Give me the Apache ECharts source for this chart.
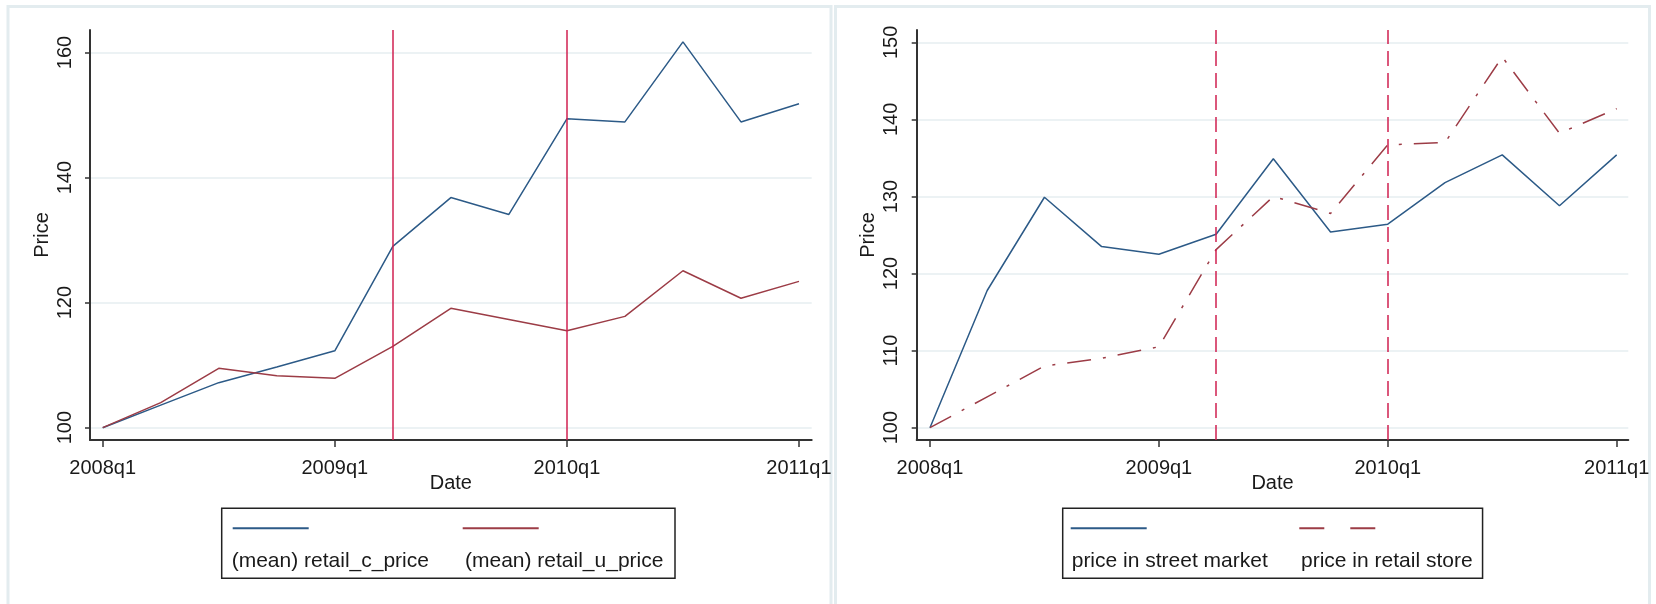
<!DOCTYPE html>
<html>
<head>
<meta charset="utf-8">
<script src="https://cdn.jsdelivr.net/npm/echarts@6/dist/echarts.min.js"></script>
<style>
html, body { margin: 0; padding: 0; background: #ffffff; }
#chart { width: 1656px; height: 604px; }
</style>
</head>
<body>
<div id="chart"></div>
<script>
// Quarterly price indices (2008q1 = 100)
const quarterLabels = ['2008q1', '2008q2', '2008q3', '2008q4', '2009q1', '2009q2', '2009q3',
  '2009q4', '2010q1', '2010q2', '2010q3', '2010q4', '2011q1'];
const retailCPrice = [100, 103.6, 107.2, 109.7, 112.3, 129.0, 136.8, 134.1, 149.4, 148.9, 161.7, 148.9, 151.8];
const retailUPrice = [100, 104.0, 109.5, 108.3, 107.9, 113.0, 119.1, 117.3, 115.5, 117.8, 125.1, 120.7, 123.4];
const streetMarketPrice = [100, 117.8, 129.9, 123.5, 122.5, 125.1, 134.9, 125.4, 126.4, 131.8, 135.4, 128.8, 135.4];
const retailStorePrice = [100, 104.0, 108.0, 109.0, 110.5, 123.1, 130.0, 127.8, 136.7, 137.0, 148.1, 138.2, 141.4];

// Reference quarters marked with vertical lines (2009q2, 2010q1)
const eventQuarters = [5, 8];

// Tick positions
const xTickQuarters = [0, 4, 8, 12];
const leftYTicks = [100, 120, 140, 160];
const rightYTicks = [100, 110, 120, 130, 140, 150];

// Series names
const leftNames = ['(mean) retail_c_price', '(mean) retail_u_price'];
const rightNames = ['price in street market', 'price in retail store'];

const FONT = '"Liberation Sans", Arial, sans-serif';
const NAVY = '#2c5a87';
const MAROON = '#9c3c46';
const VLINE = '#d02050';
const AXIS = '#333333';
const GRID = '#e6eef0';
const TEXT = '#1a1a1a';

// Legend key shapes: a solid bar and a long-dash bar
const SOLID_KEY = 'path://M0,0H76V2H0Z';
const DASH_KEY = 'path://M0,0H25V2H0Z M51,0H76V2H51Z';

const toPoints = vals => vals.map((v, i) => [i, v]);

function xAxisFor(gridIndex, min, max) {
  return {
    type: 'value', gridIndex, min, max,
    name: 'Date', nameLocation: 'middle', nameGap: 33, nameMoveOverlap: false,
    nameTextStyle: { fontFamily: FONT, fontSize: 20, color: TEXT },
    axisLine: { show: true, onZero: false, lineStyle: { color: AXIS, width: 2 } },
    axisTick: { show: true, customValues: xTickQuarters, length: 7, lineStyle: { color: AXIS, width: 1.5 } },
    axisLabel: {
      customValues: xTickQuarters, margin: 18, fontFamily: FONT, fontSize: 20, color: TEXT,
      formatter: v => quarterLabels[Math.round(v)]
    },
    splitLine: { show: false }
  };
}

function yAxisFor(gridIndex, min, max, ticks) {
  return {
    type: 'value', gridIndex, min, max,
    name: 'Price', nameLocation: 'middle', nameGap: 38, nameRotate: 90,
    nameTextStyle: { fontFamily: FONT, fontSize: 20, color: TEXT },
    axisLine: { show: true, onZero: false, lineStyle: { color: AXIS, width: 2 } },
    axisTick: { show: true, customValues: ticks, length: 5, lineStyle: { color: AXIS, width: 1.5 } },
    axisLabel: { customValues: ticks, rotate: 90, margin: 15, fontFamily: FONT, fontSize: 20, color: TEXT },
    splitLine: { show: true, lineStyle: { color: GRID, width: 1.5 } }
  };
}

function vLines(style) {
  return {
    silent: true, symbol: ['none', 'none'], animation: false,
    label: { show: false },
    lineStyle: style,
    data: eventQuarters.map(q => ({ xAxis: q }))
  };
}

const option = {
  animation: false,
  backgroundColor: '#ffffff',
  graphic: [
    { type: 'rect', z: -100, shape: { x: 8, y: 6.5, width: 823, height: 640 },
      style: { fill: '#ffffff', stroke: '#e3ecef', lineWidth: 3 } },
    { type: 'rect', z: -100, shape: { x: 835.5, y: 6.5, width: 814, height: 640 },
      style: { fill: '#ffffff', stroke: '#e3ecef', lineWidth: 3 } }
  ],
  grid: [
    { left: 90, right: 1656 - 811.7, top: 30, bottom: 604 - 440, outerBoundsMode: 'none' },
    { left: 916.7, right: 1656 - 1628.3, top: 30, bottom: 604 - 440, outerBoundsMode: 'none' }
  ],
  xAxis: [
    xAxisFor(0, -0.219, 12.219),
    xAxisFor(1, -0.232, 12.203)
  ],
  yAxis: [
    yAxisFor(0, 98.03, 163.6, leftYTicks),
    yAxisFor(1, 98.4, 151.6, rightYTicks)
  ],
  legend: [
    // line keys, left panel
    {
      left: 231.7, top: 527.3, padding: 0, itemWidth: 78, itemHeight: 2, itemGap: 153,
      icon: SOLID_KEY, formatter: () => '', textStyle: { fontSize: 1 },
      data: leftNames.map(n => ({ name: n }))
    },
    // labels and frame, left panel
    {
      left: 221.7, top: 508.3, padding: [42, 10, 6, 5], itemWidth: 0, itemHeight: 0, itemGap: 0,
      icon: 'none', borderColor: '#222222', borderWidth: 1.5,
      textStyle: { fontFamily: FONT, fontSize: 21, color: TEXT, width: 228.3, lineHeight: 22 },
      data: [{ name: leftNames[0] }, { name: leftNames[1], textStyle: { width: 200 } }]
    },
    // line keys, right panel
    {
      left: 1070.7, top: 527.3, padding: 0, itemWidth: 76, itemHeight: 2, itemGap: 152.6,
      formatter: () => '', textStyle: { fontSize: 1 },
      data: [{ name: rightNames[0], icon: SOLID_KEY }, { name: rightNames[1], icon: DASH_KEY }]
    },
    // labels and frame, right panel
    {
      left: 1062.7, top: 508.3, padding: [42, 10, 6, 4], itemWidth: 0, itemHeight: 0, itemGap: 0,
      icon: 'none', borderColor: '#222222', borderWidth: 1.5,
      textStyle: { fontFamily: FONT, fontSize: 21, color: TEXT, width: 224.3, lineHeight: 22 },
      data: [{ name: rightNames[0] }, { name: rightNames[1], textStyle: { width: 171.3 } }]
    }
  ],
  series: [
    {
      name: leftNames[0], type: 'line', xAxisIndex: 0, yAxisIndex: 0,
      data: toPoints(retailCPrice), symbol: 'none',
      itemStyle: { color: NAVY }, lineStyle: { color: NAVY, width: 1.5 },
      markLine: vLines({ color: VLINE, width: 1.5, type: 'solid' })
    },
    {
      name: leftNames[1], type: 'line', xAxisIndex: 0, yAxisIndex: 0,
      data: toPoints(retailUPrice), symbol: 'none',
      itemStyle: { color: MAROON }, lineStyle: { color: MAROON, width: 1.5 }
    },
    {
      name: rightNames[0], type: 'line', xAxisIndex: 1, yAxisIndex: 1,
      data: toPoints(streetMarketPrice), symbol: 'none',
      itemStyle: { color: NAVY }, lineStyle: { color: NAVY, width: 1.5 },
      markLine: vLines({ color: VLINE, width: 1.5, type: [15, 7] })
    },
    {
      name: rightNames[1], type: 'line', xAxisIndex: 1, yAxisIndex: 1,
      data: toPoints(retailStorePrice), symbol: 'none',
      itemStyle: { color: MAROON }, lineStyle: { color: MAROON, width: 1.5, type: [24, 12, 3, 12] }
    }
  ]
};

const chart = echarts.init(document.getElementById('chart'), null, { renderer: 'canvas' });
chart.setOption(option);
</script>
</body>
</html>
